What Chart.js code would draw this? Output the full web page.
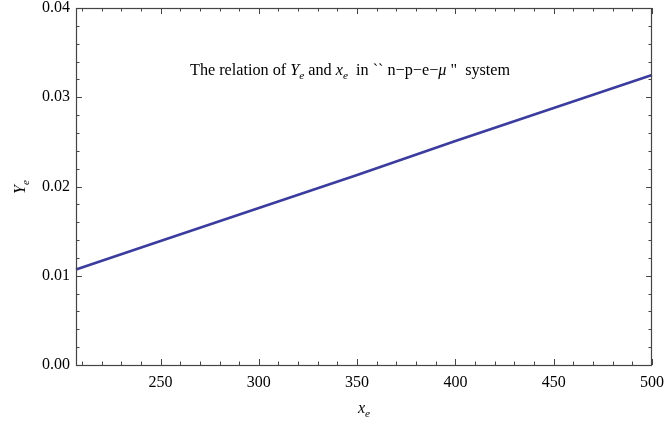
<!DOCTYPE html>
<html>
<head>
<meta charset="utf-8">
<script src="https://cdn.jsdelivr.net/npm/chart.js@4/dist/chart.umd.min.js"></script>
<style>
    html, body { margin: 0; padding: 0; background: #fff; }
    #wrap { width: 665px; height: 431px; }
</style>
</head>
<body>
<div id="wrap"><canvas id="yeChart" width="665" height="431"></canvas></div>
<script>
// values
const xValues = [207, 250, 300, 350, 400, 450, 500];
const yeValues = [0.0107, 0.0139, 0.0176, 0.0213, 0.0251, 0.0288, 0.0325];
const xTickLabels = [250, 300, 350, 400, 450, 500];
const yTickLabels = [0.0, 0.01, 0.02, 0.03, 0.04];

const serif = "'Liberation Serif', 'Times New Roman', serif";

function drawRich(ctx, x, y, parts, size) {
    let cx = x;
    parts.forEach((p) => {
        const fs = p.sub ? size * 0.7 : size;
        ctx.font = (p.italic ? "italic " : "") + fs + "px " + serif;
        ctx.fillText(p.t, cx, p.sub ? y + size * 0.22 : y);
        cx += ctx.measureText(p.t).width;
    });
}

const framePlugin = {
    id: "frame",
    afterDraw(chart) {
        const ctx = chart.ctx;
        const a = chart.chartArea;
        const xs = chart.scales.x;
        const ys = chart.scales.y;
        ctx.save();
        ctx.strokeStyle = "#444";
        ctx.lineWidth = 1.2;
        ctx.strokeRect(a.left + 0.5, a.top + 0.5, a.right - a.left - 1, a.bottom - a.top);

        ctx.beginPath();
        ctx.lineWidth = 1;
        xs.ticks.forEach((t) => {
            const px = Math.round(xs.getPixelForValue(t.value)) + 0.5;
            const len = t.value % 50 === 0 ? 6 : 3.5;
            ctx.moveTo(px, a.bottom);
            ctx.lineTo(px, a.bottom - len);
            ctx.moveTo(px, a.top);
            ctx.lineTo(px, a.top + len);
        });
        ys.ticks.forEach((t) => {
            const py = Math.round(ys.getPixelForValue(t.value)) + 0.5;
            const major = Math.abs(t.value * 100 - Math.round(t.value * 100)) < 1e-6;
            const len = major ? 6 : 3.5;
            ctx.moveTo(a.left, py);
            ctx.lineTo(a.left + len, py);
            ctx.moveTo(a.right, py);
            ctx.lineTo(a.right - len, py);
        });
        ctx.stroke();

        ctx.fillStyle = "#000";
        ctx.textBaseline = "alphabetic";
        drawRich(ctx, 190, 75, [
            { t: "The relation of " },
            { t: "Y", italic: true },
            { t: "e", italic: true, sub: true },
            { t: " and " },
            { t: "x", italic: true },
            { t: "e", italic: true, sub: true },
            { t: "  in `` n\u2212p\u2212e\u2212" },
            { t: "\u03bc", italic: true },
            { t: " \"  system" },
        ], 16.2);

        drawRich(ctx, 358, 413, [
            { t: "x", italic: true },
            { t: "e", italic: true, sub: true },
        ], 16);

        ctx.translate(25, 194);
        ctx.rotate(-Math.PI / 2);
        drawRich(ctx, 0, 0, [
            { t: "Y", italic: true },
            { t: "e", italic: true, sub: true },
        ], 16);
        ctx.restore();
    },
};

new Chart(document.getElementById("yeChart"), {
    type: "line",
    data: {
        datasets: [
            {
                data: xValues.map((x, i) => ({ x: x, y: yeValues[i] })),
                borderColor: "rgb(60, 60, 158)",
                borderWidth: 2.6,
                pointRadius: 0,
                tension: 0,
                clip: false,
            },
        ],
    },
    options: {
        responsive: false,
        animation: false,
        layout: { padding: { left: 0, top: 8, right: 13, bottom: 0 } },
        plugins: { legend: { display: false }, tooltip: { enabled: false } },
        scales: {
            x: {
                type: "linear",
                min: 207,
                max: 500,
                grid: { display: false, drawTicks: false },
                border: { display: false },
                afterBuildTicks(scale) {
                    const t = [];
                    for (let v = 210; v <= 500; v += 10) t.push({ value: v });
                    scale.ticks = t;
                },
                afterFit(scale) {
                    scale.height = 66;
                    scale.paddingLeft = 0;
                    scale.paddingRight = 0;
                },
                ticks: {
                    autoSkip: false,
                    maxRotation: 0,
                    padding: 8,
                    color: "#000",
                    font: { family: serif, size: 16 },
                    callback: (v) => (xTickLabels.includes(v) ? String(v) : ""),
                },
            },
            y: {
                type: "linear",
                min: 0,
                max: 0.04,
                grid: { display: false, drawTicks: false },
                border: { display: false },
                afterBuildTicks(scale) {
                    const t = [];
                    for (let i = 0; i <= 20; i++) t.push({ value: i * 0.002 });
                    scale.ticks = t;
                },
                afterFit(scale) {
                    scale.width = 76;
                    scale.paddingTop = 0;
                    scale.paddingBottom = 0;
                },
                ticks: {
                    autoSkip: false,
                    padding: 6,
                    color: "#000",
                    font: { family: serif, size: 16 },
                    callback: (v) => {
                        const hit = yTickLabels.find((l) => Math.abs(l - v) < 1e-9);
                        return hit !== undefined ? hit.toFixed(2) : "";
                    },
                },
            },
        },
    },
    plugins: [framePlugin],
});
</script>
</body>
</html>
